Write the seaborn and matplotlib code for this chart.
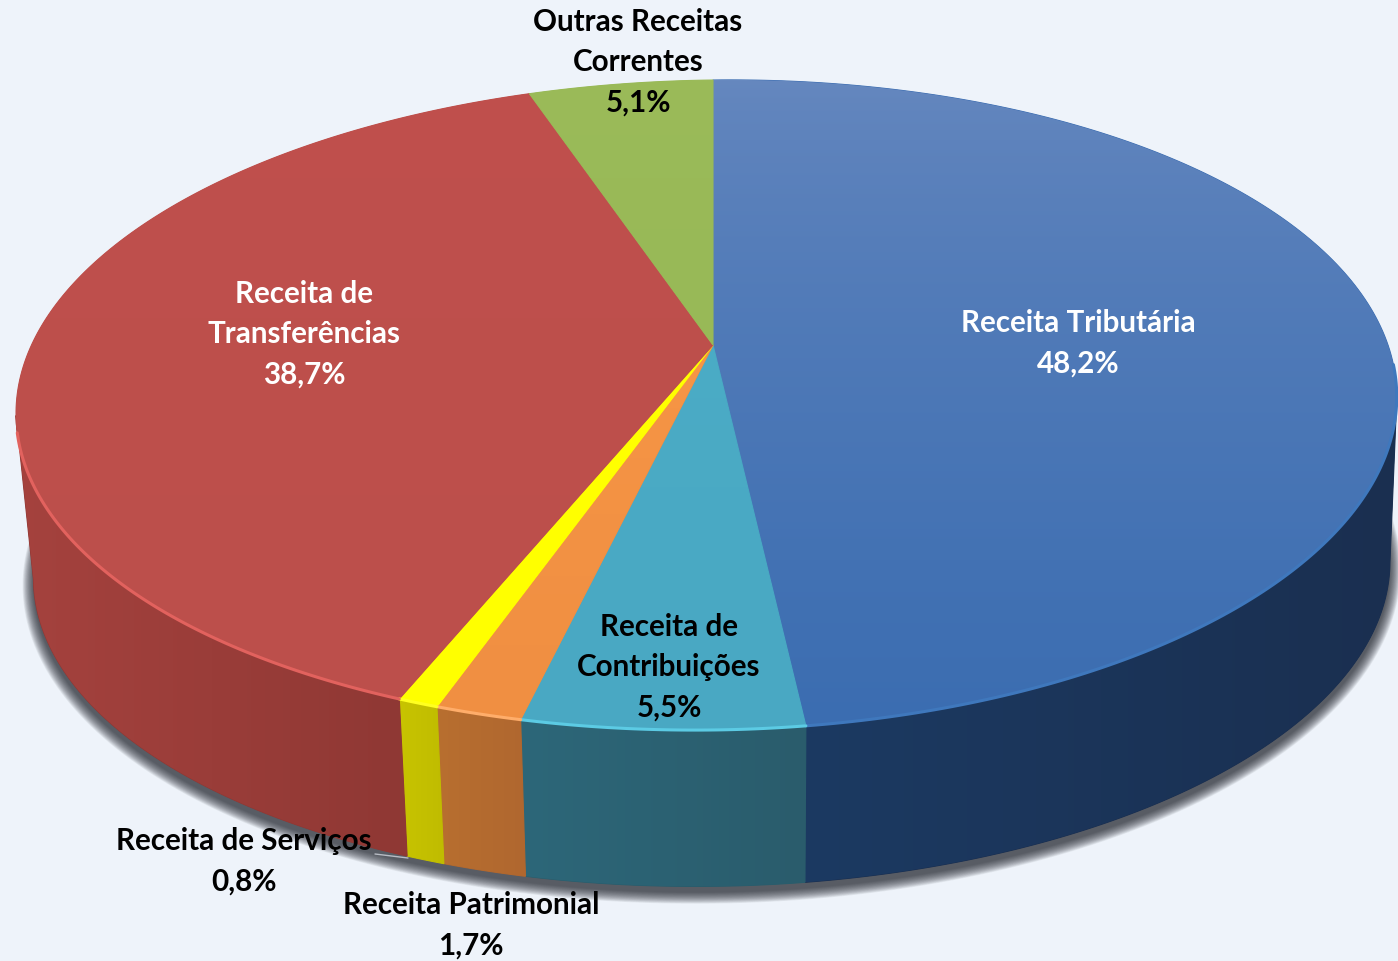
import numpy as np
import pandas as pd
import matplotlib
matplotlib.use('Agg')
import matplotlib.pyplot as plt
from matplotlib.colors import LinearSegmentedColormap
from matplotlib.patches import Polygon
import seaborn as sns

# values, clockwise from 12 o'clock
categories = ['Receita Tributária', 'Receita de Contribuições', 'Receita Patrimonial',
              'Receita de Serviços', 'Receita de Transferências', 'Outras Receitas Correntes']
shares = [48.2, 5.5, 1.7, 0.8, 38.7, 5.1]

top_from = ['#6688bf', '#4bacc6', '#f79646', '#ffff00', '#c0504d', '#9bbb59']
top_to = ['#3b6db1', '#49a8c3', '#f08f42', '#ffff00', '#bc4f4b', '#98b957']
side_left = ['#1c3a62', '#2d6779', '#b86f30', '#c8c400', '#a5423e', '#7a9440']
side_right = ['#1a2f50', '#2a5c6c', '#b0672f', '#c0bc00', '#8f3834', '#7a9440']
rim_colors = ['#3f78bd', '#5ccbe4', '#ffad6a', '#ffff20', '#e2625e', '#9bbb59']

label_lines = ['Receita Tributária\n48,2%', 'Receita de\nContribuições\n5,5%',
               'Receita Patrimonial\n1,7%', 'Receita de Serviços\n0,8%',
               'Receita de\nTransferências\n38,7%', 'Outras Receitas\nCorrentes\n5,1%']
label_colors = ['white', 'black', 'black', 'black', 'white', 'black']
label_x = [1078, 669, 471, 244, 304, 638]
label_y = [343, 667, 925, 861, 334, 62]

BG = '#eef3fa'
APEX_X, APEX_Y = 713, 345
WIDTH_L, WIDTH_R, HEIGHT, PERSP, TILT = 685, 672, 313.9, 0.1846, 0.012
BASE_L, BASE_R, BASE_Y = 0.975, 0.99, 511
WALL_FROM, WALL_TO = 101, 259

sns.set_theme(style='white', rc={'figure.facecolor': BG, 'axes.facecolor': BG})
plt.rcParams['font.family'] = ['Lato', 'DejaVu Sans']

df = pd.DataFrame({'category': categories, 'share': shares})
df['end'] = df['share'].cumsum() * 3.6
df['start'] = df['end'] - df['share'] * 3.6


def project(deg, base=False):
    t = np.radians(deg)
    w = 1 + PERSP * np.cos(t)
    s = np.sin(t)
    x = np.where(s > 0, WIDTH_R, WIDTH_L) * s / w
    y = -HEIGHT * np.cos(t) / w - TILT * x
    if base:
        return APEX_X + np.where(s > 0, BASE_R, BASE_L) * x, BASE_Y + BASE_L * y
    return APEX_X + x, APEX_Y + y


def gradient_fill(ax, pts, c0, c1, vertical, zorder, power=1.0):
    # plain polygon underneath so the clipped image has no gaps at the seams
    ax.add_patch(Polygon(pts, closed=True, fc=c1, ec=c1, lw=0.8, zorder=zorder))
    cmap = LinearSegmentedColormap.from_list('g', [c0, c1])
    x0, x1 = pts[:, 0].min(), pts[:, 0].max()
    y0, y1 = pts[:, 1].min(), pts[:, 1].max()
    grad = np.linspace(0, 1, 256) ** power
    grad = grad[:, None] if vertical else grad[None, :]
    im = ax.imshow(grad, extent=[x0, x1, y1, y0], cmap=cmap, aspect='auto', zorder=zorder + 0.1)
    im.set_clip_path(Polygon(pts, closed=True, transform=ax.transData))


fig, ax = plt.subplots(figsize=(13.98, 9.61), dpi=100)
fig.subplots_adjust(0, 0, 1, 1)

# soft shadow below the disc
circle = np.linspace(0, 360, 361)
bx, by = project(circle, base=True)
for k in np.linspace(1, 0, 20):
    sx = APEX_X + (bx - APEX_X) * (1 + 0.016 * k)
    sy = BASE_Y + (by - BASE_Y) * (1 + 0.03 * k) + 6
    ax.fill(sx, sy, color='#20242c', alpha=0.06, lw=0, zorder=1)

# side walls only on the front half, the back one is hidden anyway
for i, row in df.iterrows():
    lo, hi = max(row['start'], WALL_FROM), min(row['end'], WALL_TO)
    if lo >= hi:
        continue
    a = np.linspace(lo, hi, 200)
    tx, ty = project(a)
    bx, by = project(a, base=True)
    wall = np.column_stack([np.r_[tx, bx[::-1]], np.r_[ty, by[::-1]]])
    gradient_fill(ax, wall, side_left[i], side_right[i], False, 2 + i * 0.2)

for i, row in df.iterrows():
    a = np.linspace(row['start'], row['end'], 200)
    tx, ty = project(a)
    face = np.column_stack([np.r_[APEX_X, tx], np.r_[APEX_Y, ty]])
    gradient_fill(ax, face, top_from[i], top_to[i], True, 4 + i * 0.2, power=0.7)

# lighter rim on the front edge
for i, row in df.iterrows():
    a = np.linspace(max(row['start'], 95), min(row['end'], 256), 120)
    if a[0] >= a[-1]:
        continue
    tx, ty = project(a)
    sns.lineplot(x=tx, y=ty, sort=False, estimator=None, color=rim_colors[i], lw=2.2, ax=ax, zorder=6)

# leader line of the small slice
ax.plot([375, 408], [854, 858], color='#b8bcc4', lw=1, zorder=7)

for txt, col, x, y in zip(label_lines, label_colors, label_x, label_y):
    ax.text(x, y, txt, color=col, ha='center', va='center', fontsize=21.3, fontweight='bold',
            linespacing=1.53, zorder=8)

ax.set_xlim(0, 1398)
ax.set_ylim(961, 0)
ax.set_axis_off()
fig.savefig('out.png', dpi=100, facecolor=BG)
